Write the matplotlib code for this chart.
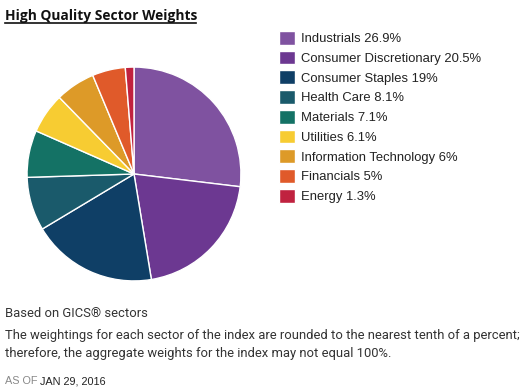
import matplotlib
matplotlib.use("Agg")
import matplotlib.pyplot as plt
from matplotlib.lines import Line2D

sectors = ["Industrials", "Consumer Discretionary", "Consumer Staples", "Health Care",
           "Materials", "Utilities", "Information Technology", "Financials", "Energy"]
weights = [26.9, 20.5, 19, 8.1, 7.1, 6.1, 6, 5, 1.3]
weight_labels = ["26.9%", "20.5%", "19%", "8.1%", "7.1%", "6.1%", "6%", "5%", "1.3%"]
colors = ["#7F52A0", "#6C3891", "#0F3F66", "#1A5A6B", "#147265",
          "#F7CC32", "#DD9A28", "#E05A2A", "#C0223F"]

W, H = 528, 388
fig = plt.figure(figsize=(W / 100, H / 100), dpi=100)

def fx(px): return px / W
def fy(py): return 1 - py / H

# pie
ax = fig.add_axes([fx(25.5), fy(282), fx(217), 216 / H])
wedges, _ = ax.pie(weights, colors=colors, startangle=90, counterclock=False,
                   wedgeprops=dict(edgecolor="white", linewidth=1))
ax.set_xlim(-1.01, 1.01)
ax.set_ylim(-1.01, 1.01)
ax.set_aspect("equal")

# legend
labels = [f"{s} {w}" for s, w in zip(sectors, weight_labels)]
leg = fig.legend(wedges, labels, loc="upper left", bbox_to_anchor=(fx(267), fy(19)),
                 frameon=False, handlelength=1.25, handleheight=1.25, handletextpad=0.45,
                 labelspacing=0.42, prop=dict(family="Liberation Sans", size=9.4))
for t in leg.get_texts():
    t.set_color("#222222")

# title with underline
fig.text(fx(5), fy(20), "High Quality Sector Weights", fontsize=9.9, fontweight="bold",
         family="Open Sans", va="baseline", ha="left", color="#111111")
fig.add_artist(Line2D([fx(5), fx(196)], [fy(23), fy(23)], color="#111111", linewidth=1.2))

# footnotes
foot = dict(family="Roboto", fontsize=9.4, color="#333333", ha="left", va="baseline")
fig.text(fx(5), fy(317), "Based on GICS\u00ae sectors", **foot)
fig.text(fx(5), fy(339), "The weightings for each sector of the index are rounded to the nearest tenth of a percent;", **foot)
fig.text(fx(5), fy(357), "therefore, the aggregate weights for the index may not equal 100%.", **foot)
t1 = fig.text(fx(5), fy(384), "AS OF ", family="Liberation Sans", fontsize=7.8, color="#888888",
              ha="left", va="baseline")
fig.canvas.draw()
bb = t1.get_window_extent()
fig.text(bb.x1 / W, fy(384), "JAN 29, 2016", family="Liberation Sans", fontsize=7.8,
         color="#222222", ha="left", va="baseline")

fig.savefig("out.png", dpi=100)
